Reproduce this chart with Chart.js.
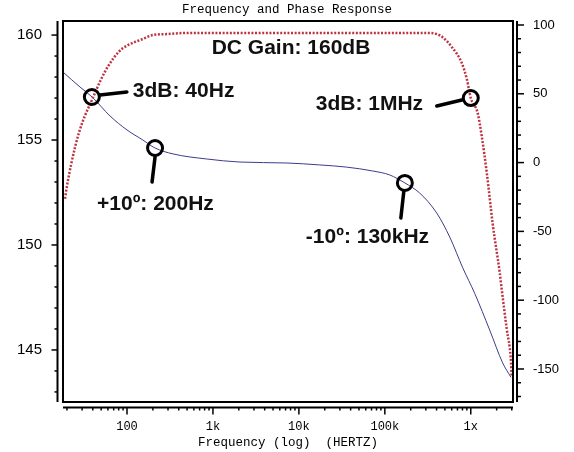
<!DOCTYPE html>
<html>
<head>
<meta charset="utf-8">
<script src="https://cdn.jsdelivr.net/npm/chart.js@4.4.0/dist/chart.umd.min.js"></script>
<style>
  html, body { margin: 0; padding: 0; background: #fff; }
  #wrap { width: 574px; height: 452px; }
</style>
</head>
<body>
<div id="wrap"><canvas id="chart"></canvas></div>
<script>
// magnitude (dB, left axis)
const gainFreq = [19, 20, 25, 30, 40, 50, 60, 80, 100, 150, 200, 300, 500, 1000, 1e4, 1e5, 3e5, 4e5, 4.7e5, 6.1e5, 7.8e5, 9e5, 1e6, 1.2e6, 1.34e6, 1.54e6, 1.8e6, 2.17e6, 2.29e6, 2.62e6, 2.92e6, 3e6];
const gainDb = [152.2, 152.8, 154.7, 155.8, 157.0, 157.9, 158.5, 159.2, 159.5, 159.8, 160.0, 160.05, 160.1, 160.1, 160.1, 160.1, 160.1, 160.05, 159.9, 159.4, 158.7, 157.9, 157.0, 156.3, 155.2, 153.4, 151.0, 148.7, 147.9, 146.0, 144.6, 143.7];

// phase (degrees, right axis)
const phaseFreq = [18, 28.4, 39.2, 63.4, 100, 153, 212, 343, 849, 2060, 7250, 17500, 36100, 72300, 114000, 171000, 254000, 401000, 569000, 807000, 1110000, 1660000, 2350000, 2920000];
const phaseDeg = [65.8, 54.9, 47.7, 33.9, 23.7, 16.4, 10.6, 6.3, 2.6, 0.4, -0.3, -1.7, -3.3, -6.1, -9.0, -14.8, -22.1, -36.6, -54.1, -76.5, -95.0, -121.7, -145.6, -155.8];

// x tick labels (only decades get text)
const xTickValues = [100, 1000, 10000, 100000, 1000000];
const xTickLabels = ['100', '1k', '10k', '100k', '1x'];

// marked points
const noteText = ['3dB: 40Hz', '+10\u00BA: 200Hz', '-10\u00BA: 130kHz', '3dB: 1MHz'];
const noteFreq = [39, 212, 171000, 1000000];
const noteValue = [157.05, 10.6, -14.8, 157.0];
const noteAxis = ['y', 'y1', 'y1', 'y'];
// leader line (from, to) and text offsets relative to the circle centre
const noteLead = [[8, -2, 35, -5], [0, 9, -3, 34], [-1, 8, -4, 35], [-9, 2, -34, 8]];
const noteTextPos = [[41, -6], [-58, 56], [-99, 54], [-155, 6]];

const toXY = (xs, ys) => xs.map((x, i) => ({x: x, y: ys[i]}));

const axisPlugin = {
  id: 'axisFrame',
  afterDraw(chart) {
    const {ctx, chartArea: a, scales} = chart;
    ctx.save();
    ctx.strokeStyle = '#000';
    ctx.lineWidth = 2;
    ctx.strokeRect(a.left, a.top, a.right - a.left, a.bottom - a.top);

    const lx = a.left - 5.5, rx = a.right + 4, by = a.bottom + 5.5;
    const seg = (x1, y1, x2, y2) => { ctx.beginPath(); ctx.moveTo(x1, y1); ctx.lineTo(x2, y2); ctx.stroke(); };
    seg(lx, a.top, lx, a.bottom);
    seg(rx, a.top, rx, a.bottom);
    seg(a.left, by, a.right, by);

    ctx.lineWidth = 1.5;
    const y = scales.y;
    for (let v = Math.ceil(y.min); v <= y.max; v++) {
      const p = y.getPixelForValue(v);
      seg(lx - (v % 5 === 0 ? 6 : 3), p, lx, p);
    }
    const y1 = scales.y1;
    for (let v = Math.ceil(y1.min / 10) * 10; v <= y1.max; v += 10) {
      const p = y1.getPixelForValue(v);
      seg(rx, p, rx + (v % 50 === 0 ? 7 : 4), p);
    }
    const x = scales.x;
    for (let e = Math.floor(Math.log10(x.min)); e <= Math.ceil(Math.log10(x.max)); e++) {
      for (let m = 1; m <= 9; m++) {
        const v = m * Math.pow(10, e);
        if (v < x.min || v > x.max) continue;
        const p = x.getPixelForValue(v);
        seg(p, by, p, by + (m === 1 ? 7 : 3));
      }
    }
    ctx.restore();
  }
};

const notePlugin = {
  id: 'notes',
  afterDraw(chart) {
    const {ctx, scales} = chart;
    ctx.save();
    ctx.fillStyle = '#111';
    ctx.strokeStyle = '#000';
    ctx.font = 'bold 21px "Liberation Sans", Arial, sans-serif';
    ctx.textBaseline = 'middle';
    ctx.textAlign = 'center';
    ctx.fillText('DC Gain: 160dB', 291, 48);
    ctx.textAlign = 'left';
    noteText.forEach((t, i) => {
      const cx = scales.x.getPixelForValue(noteFreq[i]);
      const cy = scales[noteAxis[i]].getPixelForValue(noteValue[i]);
      ctx.lineWidth = 3;
      ctx.beginPath();
      ctx.arc(cx, cy, 7.5, 0, Math.PI * 2);
      ctx.stroke();
      const l = noteLead[i];
      ctx.lineWidth = 3.5;
      ctx.lineCap = 'round';
      ctx.beginPath();
      ctx.moveTo(cx + l[0], cy + l[1]);
      ctx.lineTo(cx + l[2], cy + l[3]);
      ctx.stroke();
      ctx.fillText(t, cx + noteTextPos[i][0], cy + noteTextPos[i][1]);
    });
    ctx.restore();
  }
};

// keep the y axes from pushing the plot area down
function fixWidth(w) {
  return function(s) { s.width = w; s.paddingTop = 0; s.paddingBottom = 0; };
}

const ctx = document.getElementById('chart').getContext('2d');
const chart = new Chart(ctx, {
  type: 'scatter',
  data: {
    datasets: [{
      label: 'Gain',
      data: toXY(gainFreq, gainDb),
      yAxisID: 'y',
      showLine: true,
      borderColor: '#bc3442',
      borderWidth: 2.5,
      borderDash: [2, 1.6],
      pointRadius: 0,
      cubicInterpolationMode: 'monotone'
    }, {
      label: 'Phase',
      data: toXY(phaseFreq, phaseDeg),
      yAxisID: 'y1',
      showLine: true,
      borderColor: '#3c3c8c',
      borderWidth: 1,
      pointRadius: 0,
      cubicInterpolationMode: 'monotone'
    }]
  },
  options: {
    responsive: true,
    maintainAspectRatio: false,
    animation: false,
    layout: { padding: 0 },
    plugins: {
      legend: { display: false },
      tooltip: { enabled: false },
      title: {
        display: true,
        text: 'Frequency and Phase Response',
        color: '#000',
        font: { family: '"Liberation Mono", monospace', size: 12.5, weight: 'normal' },
        padding: { top: 2, bottom: 4 }
      }
    },
    scales: {
      x: {
        type: 'logarithmic',
        min: 18,
        max: 3.1e6,
        grid: { display: false, drawTicks: false },
        border: { display: false },
        ticks: {
          autoSkip: false,
          maxRotation: 0,
          padding: 18,
          color: '#000',
          font: { family: '"Liberation Mono", monospace', size: 12 },
          callback: function(v) {
            const i = xTickValues.indexOf(v);
            return i >= 0 ? xTickLabels[i] : '';
          }
        },
        title: {
          display: true,
          text: 'Frequency (log)  (HERTZ)',
          color: '#000',
          font: { family: '"Liberation Mono", monospace', size: 12.5 },
          padding: { top: 0, bottom: 2 }
        },
        afterFit: function(s) { s.height = 50; }
      },
      y: {
        position: 'left',
        min: 142.52,
        max: 160.67,
        grid: { display: false, drawTicks: false },
        border: { display: false },
        ticks: {
          stepSize: 5,
          includeBounds: false,
          padding: 21,
          color: '#000',
          font: { family: '"Liberation Sans", Arial, sans-serif', size: 15 },
          callback: function(v) { return v % 5 === 0 ? v : ''; }
        },
        afterFit: fixWidth(63)
      },
      y1: {
        position: 'right',
        min: -174,
        max: 102.9,
        grid: { display: false, drawTicks: false },
        border: { display: false },
        ticks: {
          stepSize: 50,
          includeBounds: false,
          padding: 20,
          color: '#000',
          font: { family: '"Liberation Sans", Arial, sans-serif', size: 13 },
          callback: function(v) { return v % 50 === 0 ? v : ''; }
        },
        afterFit: fixWidth(61)
      }
    }
  },
  plugins: [axisPlugin, notePlugin]
});
</script>
</body>
</html>
